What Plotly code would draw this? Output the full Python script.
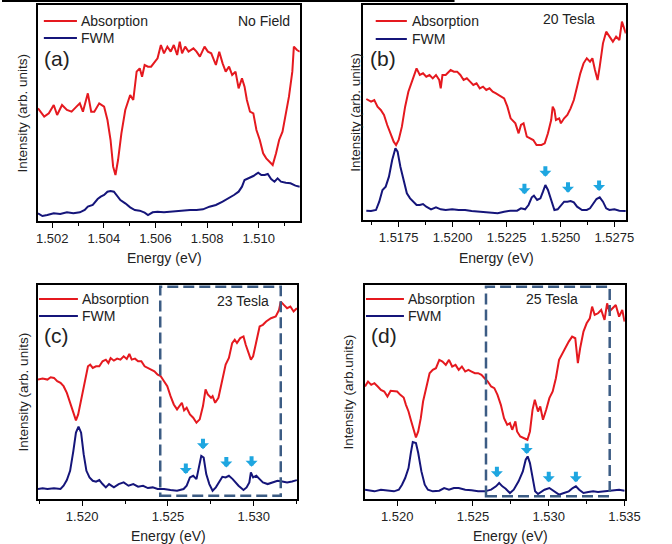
import plotly.graph_objects as go

# ---------------- data (energies in eV, intensities in arb. units) ----------------
# Panel (a) No field
a_abs_E = [1.50145,1.50169,1.50187,1.50206,1.50219,1.50238,1.50257,1.50275,1.50294,1.50307,1.50319,1.50338,1.50351,1.50363,1.50382,1.50401,1.50414,1.50426,1.50436,1.50445,1.50455,1.50468,1.50483,1.50502,1.50514,1.50527,1.50539,1.50548,1.50558,1.50571,1.50583,1.50596,1.50608,1.50621,1.50633,1.50646,1.50659,1.50671,1.50684,1.50694,1.50703,1.50715,1.50728,1.50747,1.50759,1.50772,1.50790,1.50803,1.50816,1.50834,1.50847,1.50860,1.50872,1.50885,1.50897,1.50910,1.50922,1.50935,1.50945,1.50954,1.50966,1.50979,1.50991,1.51004,1.51017,1.51029,1.51042,1.51054,1.51067,1.51079,1.51092,1.51105,1.51117,1.51130,1.51136,1.51148,1.51159]
a_abs_I = [338,313,323,348,318,348,333,328,343,353,328,383,328,328,353,343,303,243,163,138,183,263,333,378,363,448,458,433,468,463,463,478,488,528,503,523,508,528,498,538,503,523,508,518,508,493,523,508,503,468,508,473,448,463,438,448,398,428,403,363,328,323,273,243,203,188,178,168,203,243,268,323,373,448,523,513,508]
a_fwm_E = [1.50145,1.50162,1.50181,1.50206,1.50231,1.50257,1.50282,1.50307,1.50326,1.50338,1.50357,1.50376,1.50388,1.50401,1.50414,1.50426,1.50439,1.50451,1.50464,1.50483,1.50502,1.50520,1.50539,1.50558,1.50571,1.50589,1.50608,1.50633,1.50659,1.50684,1.50709,1.50734,1.50759,1.50784,1.50809,1.50834,1.50860,1.50885,1.50904,1.50922,1.50935,1.50945,1.50960,1.50979,1.50998,1.51010,1.51023,1.51035,1.51048,1.51061,1.51073,1.51086,1.51105,1.51123,1.51142,1.51159]
a_fwm_I = [23,15,18,23,21,26,23,26,33,43,48,66,73,78,88,90,88,75,63,53,41,33,31,25,18,26,28,26,28,31,31,33,33,35,43,48,58,68,78,88,103,123,128,135,145,138,138,141,126,118,128,118,115,113,106,103]

# Panel (b) 20 Tesla
b_abs_E = [1.51600,1.51622,1.51637,1.51652,1.51667,1.51682,1.51697,1.51712,1.51727,1.51738,1.51750,1.51765,1.51780,1.51795,1.51810,1.51825,1.51833,1.51848,1.51863,1.51878,1.51893,1.51908,1.51923,1.51938,1.51945,1.51953,1.51968,1.51991,1.52006,1.52021,1.52036,1.52051,1.52066,1.52081,1.52096,1.52111,1.52126,1.52141,1.52156,1.52171,1.52186,1.52201,1.52216,1.52239,1.52254,1.52269,1.52291,1.52306,1.52317,1.52329,1.52344,1.52359,1.52374,1.52389,1.52412,1.52427,1.52442,1.52457,1.52464,1.52472,1.52479,1.52494,1.52502,1.52517,1.52532,1.52547,1.52562,1.52577,1.52592,1.52607,1.52622,1.52637,1.52648,1.52660,1.52672,1.52682,1.52697,1.52712,1.52727,1.52743,1.52758,1.52773,1.52785,1.52803]
b_abs_I = [363,355,360,340,330,315,285,260,235,225,240,280,340,385,415,445,455,435,440,430,435,425,435,420,395,435,435,450,445,445,435,420,425,415,405,410,395,400,390,395,385,380,375,365,340,305,290,260,285,290,250,245,240,225,225,230,260,300,340,330,300,305,290,305,315,335,360,400,440,470,485,475,485,450,420,460,530,565,550,535,550,540,595,560]
b_fwm_E = [1.51600,1.51622,1.51645,1.51660,1.51675,1.51690,1.51705,1.51720,1.51735,1.51745,1.51758,1.51773,1.51788,1.51803,1.51818,1.51833,1.51848,1.51863,1.51878,1.51900,1.51923,1.51945,1.51968,1.51998,1.52028,1.52058,1.52088,1.52118,1.52149,1.52179,1.52209,1.52239,1.52269,1.52299,1.52317,1.52336,1.52352,1.52367,1.52377,1.52392,1.52407,1.52419,1.52430,1.52442,1.52457,1.52472,1.52487,1.52502,1.52517,1.52532,1.52547,1.52562,1.52577,1.52600,1.52622,1.52637,1.52652,1.52667,1.52682,1.52697,1.52712,1.52727,1.52750,1.52773,1.52803]
b_fwm_I = [28,27,30,55,90,100,130,180,215,205,160,115,80,65,55,45,45,48,40,32,38,32,30,32,30,30,27,25,23,20,20,25,28,28,35,32,45,68,73,60,65,85,105,90,60,30,32,45,55,55,57,53,40,30,30,35,48,63,68,55,35,30,32,28,27]
b_arrow_E = [1.52333, 1.52430, 1.52535, 1.52679]
b_arrow_I = [77, 130, 82, 87]

# Panel (c) 23 Tesla
c_abs_E = [1.51743,1.51770,1.51798,1.51817,1.51836,1.51855,1.51874,1.51892,1.51911,1.51930,1.51949,1.51964,1.51977,1.51996,1.52015,1.52034,1.52047,1.52062,1.52081,1.52100,1.52119,1.52138,1.52153,1.52166,1.52185,1.52204,1.52223,1.52242,1.52260,1.52275,1.52289,1.52308,1.52326,1.52345,1.52364,1.52383,1.52402,1.52421,1.52440,1.52458,1.52477,1.52496,1.52515,1.52534,1.52553,1.52572,1.52581,1.52594,1.52609,1.52628,1.52647,1.52666,1.52685,1.52704,1.52719,1.52732,1.52751,1.52760,1.52775,1.52794,1.52817,1.52836,1.52855,1.52874,1.52889,1.52902,1.52921,1.52940,1.52953,1.52968,1.52983,1.52996,1.53015,1.53034,1.53053,1.53072,1.53100,1.53128,1.53147,1.53157,1.53175,1.53194,1.53213,1.53232,1.53251]
c_abs_I = [360,363,360,367,365,355,350,340,320,290,265,237,255,305,345,400,405,395,400,400,415,420,410,425,417,423,420,430,422,437,420,423,415,415,400,395,390,385,375,370,355,340,310,285,270,285,290,267,275,255,245,230,240,280,330,315,305,310,290,305,365,405,425,470,480,470,485,490,465,445,420,430,475,520,525,535,545,550,570,595,585,575,580,565,575]
c_fwm_E = [1.51743,1.51770,1.51798,1.51836,1.51874,1.51892,1.51911,1.51930,1.51949,1.51964,1.51979,1.51994,1.52009,1.52025,1.52043,1.52062,1.52081,1.52100,1.52119,1.52138,1.52157,1.52185,1.52213,1.52242,1.52270,1.52298,1.52326,1.52355,1.52383,1.52411,1.52440,1.52477,1.52515,1.52553,1.52591,1.52609,1.52628,1.52647,1.52666,1.52681,1.52694,1.52708,1.52723,1.52741,1.52760,1.52779,1.52798,1.52817,1.52836,1.52855,1.52877,1.52892,1.52911,1.52940,1.52958,1.52974,1.52983,1.52996,1.53015,1.53034,1.53053,1.53081,1.53109,1.53138,1.53166,1.53194,1.53223,1.53251]
c_fwm_I = [30,32,30,32,30,40,57,85,145,200,218,200,135,85,65,55,52,57,45,35,45,35,45,50,40,45,37,40,33,35,30,30,27,25,30,40,65,70,60,100,130,125,75,45,25,35,50,67,65,70,60,50,40,27,35,50,80,65,70,60,50,45,50,55,53,50,53,57]
c_arrow_E = [1.52604, 1.52704, 1.52840, 1.52987]
c_arrow_I = [75, 150, 95, 97]
c_box_E = [1.52455, 1.53157]
c_box_I = [10, 640]

# Panel (d) 25 Tesla
d_abs_E = [1.51788,1.51808,1.51829,1.51850,1.51872,1.51893,1.51915,1.51936,1.51957,1.51979,1.52000,1.52021,1.52043,1.52058,1.52075,1.52090,1.52107,1.52124,1.52139,1.52156,1.52171,1.52192,1.52214,1.52235,1.52256,1.52278,1.52299,1.52321,1.52342,1.52363,1.52385,1.52406,1.52427,1.52449,1.52470,1.52491,1.52513,1.52534,1.52556,1.52577,1.52598,1.52620,1.52641,1.52662,1.52684,1.52705,1.52726,1.52744,1.52759,1.52780,1.52791,1.52812,1.52833,1.52859,1.52876,1.52893,1.52908,1.52929,1.52944,1.52962,1.52983,1.53004,1.53026,1.53047,1.53068,1.53090,1.53111,1.53132,1.53154,1.53175,1.53192,1.53207,1.53229,1.53250,1.53271,1.53286,1.53303,1.53325,1.53346,1.53368,1.53385,1.53400,1.53421,1.53442,1.53464,1.53485,1.53500]
d_abs_I = [338,353,343,348,338,328,323,308,325,323,323,313,305,283,263,238,208,185,203,243,293,338,378,388,393,418,413,403,418,398,403,388,398,383,388,383,378,378,373,363,353,338,333,313,283,243,223,228,208,233,203,188,183,178,203,268,298,263,278,238,268,303,323,363,418,438,453,473,488,483,408,453,503,528,543,578,553,558,568,538,588,563,573,583,548,568,533]
d_fwm_E = [1.51788,1.51818,1.51850,1.51893,1.51936,1.51979,1.52011,1.52032,1.52053,1.52075,1.52090,1.52103,1.52124,1.52139,1.52160,1.52182,1.52203,1.52235,1.52278,1.52310,1.52342,1.52374,1.52406,1.52449,1.52491,1.52534,1.52577,1.52620,1.52652,1.52673,1.52694,1.52716,1.52744,1.52769,1.52801,1.52829,1.52848,1.52861,1.52876,1.52893,1.52910,1.52929,1.52951,1.52972,1.53004,1.53036,1.53068,1.53100,1.53132,1.53158,1.53179,1.53201,1.53229,1.53261,1.53293,1.53325,1.53357,1.53389,1.53432,1.53464,1.53500]
d_fwm_I = [28,26,23,28,25,23,28,43,63,93,138,171,168,138,83,43,28,23,25,33,28,33,33,28,26,23,23,28,38,48,38,31,18,28,53,83,118,128,108,63,23,15,23,28,33,23,13,18,23,33,38,28,18,21,23,21,23,25,26,28,25]
d_arrow_E = [1.52658, 1.52855, 1.53000, 1.53179]
d_arrow_I = [65, 135, 50, 50]
d_box_E = [1.52586, 1.53402]
d_box_I = [8, 638]

panel_labels = ["(a)", "(b)", "(c)", "(d)"]
field_labels = ["No Field", "20 Tesla", "23 Tesla", "25 Tesla"]
series_names = ["Absorption", "FWM"]
x_title = "Energy (eV)"
y_titles = ["Intensity (arb. units)", "Intensity (arb. units)", "Intensity (arb. units)", "Intensity (arb.units)"]

# ---------------- style ----------------
W, H = 672, 544
RED = "#e5191f"
NAVY = "#15157a"
ARROW = "#1ea6e0"
BOXC = "#3c5c84"
TXT = "#222222"
FONT = "Liberation Sans, Arial, sans-serif"

def px(x):
    return x / W

def py(y):
    return 1 - y / H

fig = go.Figure()

panels = [
    dict(abs=(a_abs_E, a_abs_I), fwm=(a_fwm_E, a_fwm_I), arrows=None, box=None,
         dom_x=(37, 306), dom_y=(5, 221), xr=[1.50145, 1.51159], yr=[0, 648],
         tick0=1.502, dtick=0.002, minor=0.001, fmt=".3f",
         leg=(43, 77, 21, 38, 79), lab=(57, 59), fld=(269, 21), ytit=21, xtit=(167, 258)),
    dict(abs=(b_abs_E, b_abs_I), fwm=(b_fwm_E, b_fwm_I), arrows=(b_arrow_E, b_arrow_I), box=None,
         dom_x=(371, 641), dom_y=(5, 220), xr=[1.51585, 1.52803], yr=[0, 645],
         tick0=1.5175, dtick=0.0025, minor=0.00125, fmt=".4f",
         leg=(384, 416, 21, 39, 419), lab=(391, 59), fld=(583, 19), ytit=363, xtit=(508, 258)),
    dict(abs=(c_abs_E, c_abs_I), fwm=(c_fwm_E, c_fwm_I), arrows=(c_arrow_E, c_arrow_I), box=(c_box_E, c_box_I),
         dom_x=(37, 303), dom_y=(285, 499), xr=[1.51743, 1.53251], yr=[0, 645],
         tick0=1.520, dtick=0.005, minor=0.0025, fmt=".3f",
         leg=(38, 78, 299, 316, 80), lab=(56, 335), fld=(248, 301), ytit=22, xtit=(171, 536)),
    dict(abs=(d_abs_E, d_abs_I), fwm=(d_fwm_E, d_fwm_I), arrows=(d_arrow_E, d_arrow_I), box=(d_box_E, d_box_I),
         dom_x=(373, 640), dom_y=(285, 499), xr=[1.51788, 1.53502], yr=[0, 643],
         tick0=1.520, dtick=0.005, minor=0.0025, fmt=".3f",
         leg=(374, 413, 299, 316, 415), lab=(392, 335), fld=(565, 299), ytit=356, xtit=(522, 536)),
]

shapes = []
annotations = []
layout_axes = {}

for i, p in enumerate(panels):
    n = "" if i == 0 else str(i + 1)
    xa, ya = "x" + n, "y" + n
    fig.add_trace(go.Scatter(x=p["abs"][0], y=p["abs"][1], mode="lines",
                             line=dict(color=RED, width=2), xaxis=xa, yaxis=ya,
                             name=series_names[0], showlegend=False))
    fig.add_trace(go.Scatter(x=p["fwm"][0], y=p["fwm"][1], mode="lines",
                             line=dict(color=NAVY, width=2), xaxis=xa, yaxis=ya,
                             name=series_names[1], showlegend=False))
    layout_axes["xaxis" + n] = dict(
        domain=[px(p["dom_x"][0]), px(p["dom_x"][1])], anchor=ya, range=p["xr"],
        showline=True, linecolor="black", linewidth=1.5, mirror=True,
        ticks="outside", ticklen=5, tickwidth=1.2, tickcolor="black",
        tick0=p["tick0"], dtick=p["dtick"], tickformat=p["fmt"],
        minor=dict(dtick=p["minor"], ticks="outside", ticklen=3, tickwidth=1.2, tickcolor="black", showgrid=False),
        showgrid=False, zeroline=False, ticklabelstandoff=0,
        tickfont=dict(family=FONT, size=13, color=TXT))
    layout_axes["yaxis" + n] = dict(
        domain=[py(p["dom_y"][1]), py(p["dom_y"][0])], anchor=xa, range=p["yr"],
        showline=True, linecolor="black", linewidth=1.5, mirror=True,
        ticks="", showticklabels=False, showgrid=False, zeroline=False)

    # legend (line samples + labels)
    lx0, lx1, ly1, ly2, ltx = p["leg"]
    for yy, col, name in [(ly1, RED, series_names[0]), (ly2, NAVY, series_names[1])]:
        shapes.append(dict(type="line", xref="paper", yref="paper",
                           x0=px(lx0), x1=px(lx1), y0=py(yy), y1=py(yy),
                           line=dict(color=col, width=2)))
        annotations.append(dict(text=name, xref="paper", yref="paper", x=px(ltx), y=py(yy),
                                xanchor="left", yanchor="middle", showarrow=False,
                                font=dict(family=FONT, size=14, color=TXT)))
    # panel label
    annotations.append(dict(text=panel_labels[i], xref="paper", yref="paper",
                            x=px(p["lab"][0]), y=py(p["lab"][1]), xanchor="center", yanchor="middle",
                            showarrow=False, font=dict(family=FONT, size=21, color=TXT)))
    # field label
    annotations.append(dict(text=field_labels[i], xref="paper", yref="paper",
                            x=px(p["fld"][0]), y=py(p["fld"][1]), xanchor="center", yanchor="middle",
                            showarrow=False, font=dict(family=FONT, size=14, color=TXT)))
    # axis titles
    annotations.append(dict(text=y_titles[i], xref="paper", yref="paper", textangle=-90,
                            x=px(p["ytit"]), y=py((p["dom_y"][0] + p["dom_y"][1]) / 2),
                            xanchor="center", yanchor="middle", showarrow=False,
                            font=dict(family=FONT, size=13.5, color=TXT)))
    annotations.append(dict(text=x_title, xref="paper", yref="paper",
                            x=px(p["xtit"][0]), y=py(p["xtit"][1]), xanchor="center", yanchor="middle",
                            showarrow=False, font=dict(family=FONT, size=14, color=TXT)))
    # arrows marking peaks
    if p["arrows"]:
        for ex, iy in zip(*p["arrows"]):
            annotations.append(dict(x=ex, y=iy, xref=xa, yref=ya, text="", showarrow=True,
                                    ax=0, ay=-12, arrowhead=1, arrowsize=0.5, arrowwidth=4,
                                    arrowcolor=ARROW))
    # dashed region
    if p["box"]:
        shapes.append(dict(type="rect", xref=xa, yref=ya,
                           x0=p["box"][0][0], x1=p["box"][0][1], y0=p["box"][1][0], y1=p["box"][1][1],
                           line=dict(color=BOXC, width=2.5, dash="11px,5px")))

# cropped rule at the very top of the page
shapes.append(dict(type="line", xref="paper", yref="paper", x0=0, x1=px(465), y0=py(1), y1=py(1),
                   line=dict(color="black", width=2)))

fig.update_layout(width=W, height=H, margin=dict(l=0, r=0, t=0, b=0),
                  paper_bgcolor="white", plot_bgcolor="white",
                  shapes=shapes, annotations=annotations, showlegend=False,
                  **layout_axes)

fig.write_html("out.html")
